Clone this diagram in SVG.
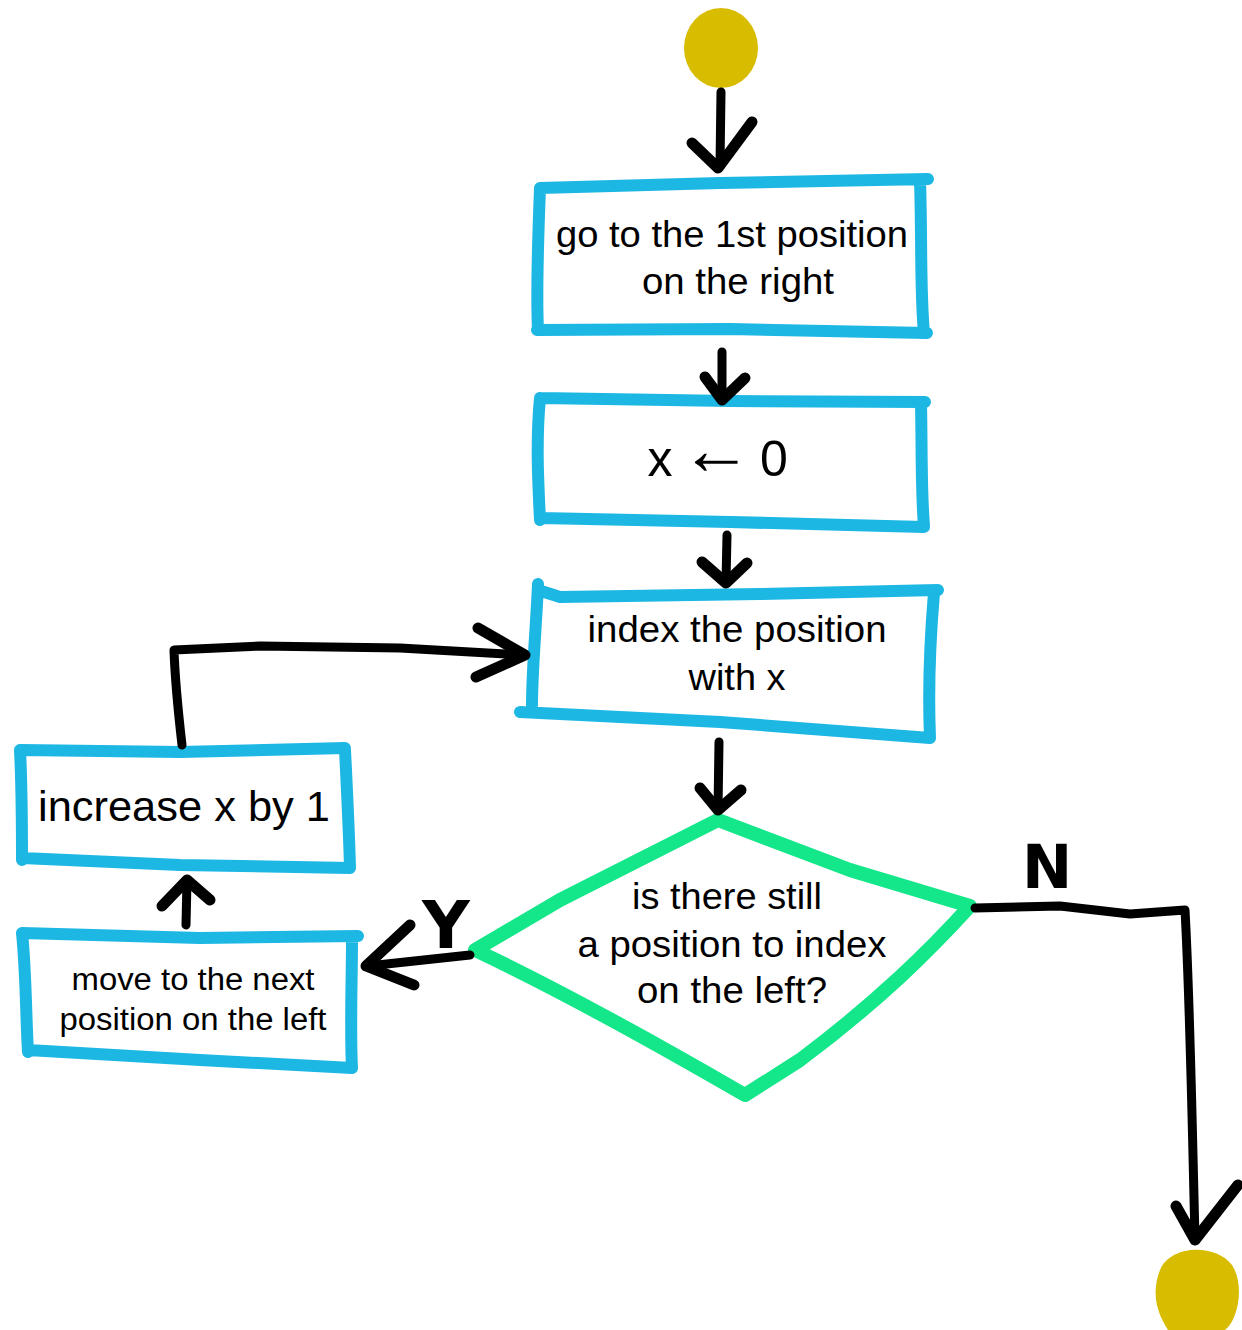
<svg xmlns="http://www.w3.org/2000/svg" width="1242" height="1330" viewBox="0 0 1242 1330">
<style>
.box{fill:none;stroke:#1DB7E4;stroke-width:12;stroke-linecap:round;stroke-linejoin:round}
.dia{fill:none;stroke:#14E68A;stroke-width:14;stroke-linecap:round;stroke-linejoin:round}
.con{fill:none;stroke:#000;stroke-width:9;stroke-linecap:round;stroke-linejoin:round}
.head{fill:none;stroke:#000;stroke-width:11;stroke-linecap:round;stroke-linejoin:round}
.term{fill:#D8BC00}
.t{font-family:"Liberation Sans",Arial,sans-serif;fill:#000;text-anchor:middle}
.hand{font-family:"DejaVu Sans",sans-serif;font-weight:bold;fill:#000;text-anchor:middle}
</style>
<rect width="1242" height="1330" fill="#fff"/>
<g id="start"><ellipse class="term" cx="721" cy="48" rx="37" ry="40"/></g>
<g id="end"><path class="term" d="M1160,1270 C1170,1245 1215,1243 1232,1265 C1245,1285 1238,1320 1225,1330 L1168,1330 C1155,1310 1152,1290 1160,1270 Z"/></g>
<g id="box1">
<path class="box" d="M540,188 L720,183 L928,179 M920,181 C922,240 920,290 924,333 M537,330 L730,329 L927,333 M540,188 C538,240 536,290 538,330"/>
<text class="t" font-size="37" x="732" y="247" textLength="352" lengthAdjust="spacingAndGlyphs">go to the 1st position</text>
<text class="t" font-size="37" x="738" y="294" textLength="192" lengthAdjust="spacingAndGlyphs">on the right</text>
</g>
<g id="box2">
<path class="box" d="M540,398 L730,401 L925,402 M921,404 C922,450 921,490 924,526 M540,518 L730,522 L924,527 M540,398 C536,440 538,480 540,520"/>
<text class="t" font-size="50" y="476"><tspan x="660">x</tspan><tspan x="716" font-size="72" dy="-2">←</tspan><tspan x="774" dy="2">0</tspan></text>
</g>
<g id="box3">
<path class="box" d="M538,590 L560,597 L760,594 L938,590 M934,593 C930,640 928,690 930,738 M520,712 L720,722 L930,738 M538,584 C536,630 532,670 532,705"/>
<text class="t" font-size="37" x="737" y="642" textLength="299" lengthAdjust="spacingAndGlyphs">index the position</text>
<text class="t" font-size="37" x="737" y="690" textLength="97" lengthAdjust="spacingAndGlyphs">with x</text>
</g>
<g id="decision">
<path class="dia" d="M718,820 L850,870 L970,906 C930,950 880,1000 800,1060 L745,1095 C650,1040 560,990 475,950 L560,900 L718,820 Z"/>
<text class="t" font-size="37" x="727" y="909" textLength="190" lengthAdjust="spacingAndGlyphs">is there still</text>
<text class="t" font-size="37" x="732" y="957" textLength="309" lengthAdjust="spacingAndGlyphs">a position to index</text>
<text class="t" font-size="37" x="732" y="1003" textLength="190" lengthAdjust="spacingAndGlyphs">on the left?</text>
</g>
<g id="move">
<path class="box" d="M22,933 L200,938 L358,936 M352,938 C352,980 350,1030 352,1068 M28,1050 L200,1060 L352,1068 M22,933 C26,970 26,1020 28,1052"/>
<text class="t" font-size="31" x="193" y="990" textLength="243" lengthAdjust="spacingAndGlyphs">move to the next</text>
<text class="t" font-size="31" x="193" y="1030" textLength="267" lengthAdjust="spacingAndGlyphs">position on the left</text>
</g>
<g id="increase">
<path class="box" d="M20,750 L180,752 L345,748 M345,750 C347,790 349,830 350,868 M22,858 L180,865 L350,868 M20,750 C22,790 22,830 22,860"/>
<text class="t" font-size="43" x="184" y="821" textLength="292" lengthAdjust="spacingAndGlyphs">increase x by 1</text>
</g>
<g id="connectors">
<path class="con" d="M721,92 L720,165"/>
<path class="head" d="M692,143 L718,168 L752,122"/>
<path class="con" d="M722,352 L722,400"/>
<path class="head" d="M705,377 L722,400 L745,378"/>
<path class="con" d="M727,535 L726,582"/>
<path class="head" d="M702,562 L726,583 L747,563"/>
<path class="con" d="M719,742 L718,810"/>
<path class="head" d="M700,788 L718,810 L741,790"/>
<path class="con" d="M975,908 L1060,906 L1130,914 L1185,910 C1190,1000 1192,1120 1195,1238"/>
<path class="head" d="M1176,1206 L1195,1240 L1238,1185"/>
<path class="con" d="M470,955 L368,966"/>
<path class="head" d="M410,925 L366,966 L414,985"/>
<path class="con" d="M186,925 L187,880"/>
<path class="head" d="M162,906 L187,880 L210,900"/>
<path class="con" d="M182,745 C178,710 175,680 174,650 L260,646 L400,648 L525,655"/>
<path class="head" d="M478,628 L525,655 L476,677"/>
<text class="hand" font-size="66" x="446" y="948">Y</text>
<text class="hand" font-size="60" x="1047" y="888">N</text>
</g>
</svg>
